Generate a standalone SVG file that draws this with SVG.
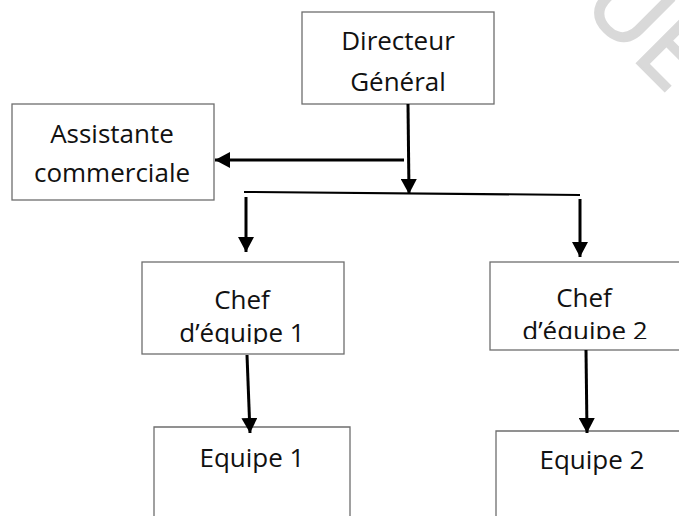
<svg xmlns="http://www.w3.org/2000/svg" width="679" height="516" viewBox="0 0 679 516">
<style>
.box{fill:#ffffff;stroke:#6e6e6e;stroke-width:1.3}
.t{font-family:"Open Sans","Liberation Sans",sans-serif;font-size:26px;fill:#111111;text-anchor:middle}
.c{stroke:#000000;stroke-width:3;fill:none}
.bar{stroke:#000000;stroke-width:2;fill:none}
.wm{font-family:"Open Sans","Liberation Sans",sans-serif;font-size:98px;fill:#d9d9d9;stroke:#d9d9d9;stroke-width:2.5}
</style>
<defs>
<marker id="ah" markerUnits="userSpaceOnUse" markerWidth="16" markerHeight="16" viewBox="0 0 16 16" refX="15" refY="8" orient="auto">
<path d="M0,0 L15,8 L0,16 Z" fill="#000000"/>
</marker>
<clipPath id="clip1"><rect x="142" y="262" width="202" height="82"/></clipPath>
<clipPath id="clip2"><rect x="490" y="262" width="189" height="77"/></clipPath>
</defs>
<text class="wm" transform="translate(580,6) rotate(45)">UE</text>
<g id="directeur">
<rect class="box" x="302" y="12" width="192" height="92"/>
<text class="t" x="398" y="50">Directeur</text>
<text class="t" x="398" y="91">Général</text>
</g>
<g id="assistante">
<rect class="box" x="12" y="104" width="202" height="96"/>
<text class="t" x="112" y="143">Assistante</text>
<text class="t" x="112" y="182">commerciale</text>
</g>
<g id="chef1">
<rect class="box" x="142" y="262" width="202" height="92"/>
<g clip-path="url(#clip1)">
<text class="t" x="242" y="309">Chef</text>
<text class="t" x="242" y="342">d’équipe 1</text>
</g>
</g>
<g id="chef2">
<rect class="box" x="490" y="262" width="200" height="88"/>
<g clip-path="url(#clip2)">
<text class="t" x="584" y="307">Chef</text>
<text class="t" x="585" y="340">d’équipe 2</text>
</g>
</g>
<g id="equipe1">
<path class="box" d="M154,520 L154,427 L350,427 L350,520"/>
<text class="t" x="252" y="467">Equipe 1</text>
</g>
<g id="equipe2">
<path class="box" d="M496,520 L496,431 L690,431"/>
<text class="t" x="592" y="469">Equipe 2</text>
</g>
<g id="connectors">
<line class="c" x1="408" y1="104" x2="409" y2="194" marker-end="url(#ah)"/>
<line class="c" x1="404" y1="160" x2="215" y2="160" marker-end="url(#ah)"/>
<line class="bar" x1="244" y1="192" x2="580" y2="195"/>
<line class="c" x1="246" y1="197" x2="246" y2="252" marker-end="url(#ah)"/>
<line class="c" x1="580" y1="199" x2="580" y2="257" marker-end="url(#ah)"/>
<line class="c" x1="247" y1="355" x2="250" y2="433" marker-end="url(#ah)"/>
<line class="c" x1="586" y1="350" x2="587" y2="433" marker-end="url(#ah)"/>
</g>
</svg>
